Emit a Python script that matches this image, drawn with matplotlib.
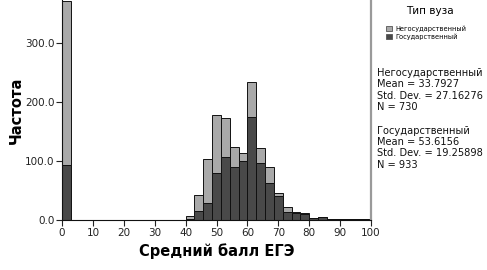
import matplotlib
matplotlib.use("Agg")
import matplotlib.pyplot as plt
from matplotlib.patches import Patch
import numpy as np

# SPSS-style stacked histogram, 35 bins over 0..100
N_BINS = 35
BIN_LO, BIN_HI = 0, 100

# counts per bin (only non-empty bins listed by index)
bin_index = [0, 14, 15, 16, 17, 18, 19, 20, 21, 22, 23, 24, 25, 26, 27, 28, 29, 30, 31, 32, 33, 34]
state_counts = [93, 2, 16, 28, 79, 106, 89, 99, 174, 97, 62, 41, 14, 12, 10, 3, 5, 2, 1, 2, 1, 2]
private_counts = [277, 5, 26, 75, 99, 66, 34, 14, 60, 24, 27, 5, 8, 1, 1, 0, 0, 0, 0, 0, 0, 0]

groups = ["Негосударственный", "Государственный"]
stats = {
    "Негосударственный": ("33.7927", "27.16276", "730"),
    "Государственный": ("53.6156", "19.25898", "933"),
}

x_ticks = [0, 10, 20, 30, 40, 50, 60, 70, 80, 90, 100]
y_ticks = [0, 100, 200, 300]

LIGHT = "#a9a9a9"
DARK = "#494949"
EDGE = "#111111"
FRAME = "#9a9a9a"

plt.rcParams["font.family"] = ["DejaVu Sans"]

fig = plt.figure(figsize=(4.87, 2.70), dpi=100)
ax = fig.add_axes([62 / 487, 1 - 220 / 270, (371 - 62) / 487, 220 / 270])

width = (BIN_HI - BIN_LO) / N_BINS
lefts = np.array(bin_index) * width + BIN_LO
state = np.array(state_counts)
private = np.array(private_counts)

ax.bar(lefts, state, width=width, align="edge", color=DARK, edgecolor=EDGE, linewidth=0.7)
ax.bar(lefts, private, width=width, bottom=state, align="edge", color=LIGHT,
       edgecolor=EDGE, linewidth=0.7)

ax.set_xlim(0, 100)
ax.set_ylim(0, 372)
ax.set_xticks(x_ticks)
ax.set_xticklabels([str(t) for t in x_ticks])
ax.set_yticks(y_ticks)
ax.set_yticklabels([f"{t:.1f}" for t in y_ticks])
ax.tick_params(axis="both", labelsize=7.5, colors="#222222", length=4, width=0.8, pad=1.5)

ax.spines["top"].set_visible(False)
ax.spines["right"].set_color(FRAME)
ax.spines["right"].set_linewidth(1.6)
for s in ("left", "bottom"):
    ax.spines[s].set_color(EDGE)
    ax.spines[s].set_linewidth(0.8)

ax.set_xlabel("Средний балл ЕГЭ", fontsize=10.5, fontweight="bold", labelpad=4)
ax.set_ylabel("Частота", fontsize=10.5, fontweight="bold", labelpad=1)

# legend panel on the right
fig.text(430 / 487, 1 - 11 / 270, "Тип вуза", ha="center", va="center", fontsize=7.5)
handles = [Patch(facecolor=LIGHT, edgecolor="#555555", linewidth=0.6),
           Patch(facecolor=DARK, edgecolor="#555555", linewidth=0.6)]
fig.legend(handles, groups, loc="upper left", bbox_to_anchor=(383 / 487, 1 - 22 / 270),
           frameon=False, fontsize=4.8, handlelength=0.8, handleheight=0.8,
           handletextpad=0.6, labelspacing=0.25, borderpad=0)

y0 = 73
for i, g in enumerate(groups):
    mean, sd, n = stats[g]
    lines = [g, f"Mean = {mean}", f"Std. Dev. = {sd}", f"N = {n}"]
    for j, line in enumerate(lines):
        fig.text(377 / 487, 1 - (y0 + i * 57.5 + j * 11.5) / 270, line,
                 ha="left", va="center", fontsize=7.1, color="#111111")

fig.savefig("out.png", dpi=100)
